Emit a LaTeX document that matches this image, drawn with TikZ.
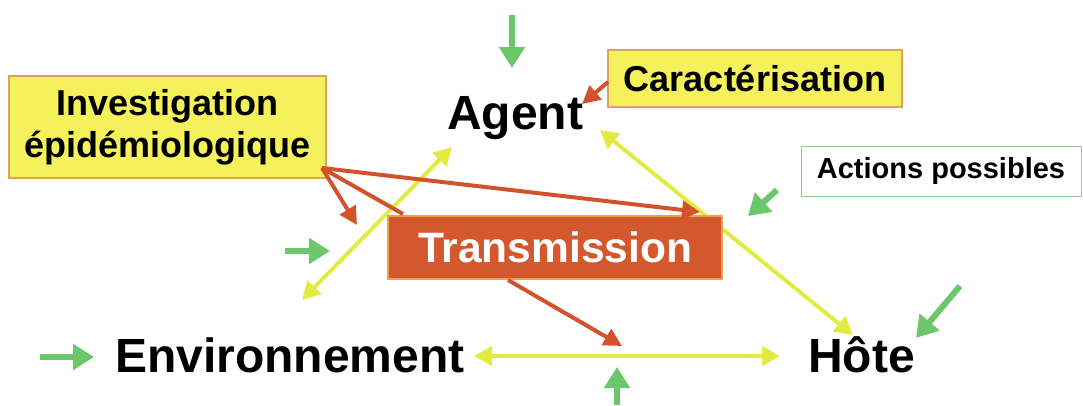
\documentclass[tikz,border=0pt]{standalone}
\usepackage{fontspec}
\setmainfont{Liberation Sans}
\usetikzlibrary{arrows.meta}
\definecolor{boxyellow}{HTML}{F4F15C}
\definecolor{boxedge}{HTML}{E0A35E}
\definecolor{ylw}{HTML}{E2EC40}
\definecolor{redarr}{HTML}{D2532B}
\definecolor{grn}{HTML}{6CC66A}
\definecolor{transfill}{HTML}{D4582E}
\definecolor{transedge}{HTML}{F0A048}
\definecolor{actedge}{HTML}{8FD08A}
\begin{document}
\begin{tikzpicture}[x=1pt,y=-1pt,
  lbl/.style={font=\fontsize{48}{50}\selectfont\bfseries, inner sep=0pt, anchor=base west},
  ybox/.style={draw=boxedge, line width=1.2pt, fill=boxyellow, align=center, inner sep=0pt},
  yarrow/.style={draw=ylw, line width=4pt, {Triangle[length=18pt,width=19pt]}-{Triangle[length=18pt,width=19pt]}},
  rarrow/.style={draw=redarr, line width=4pt, -{Triangle[length=18pt,width=18pt]}},
  rline/.style={draw=redarr, line width=4pt},
  garrow/.style={draw=grn, line width=6pt, -{Triangle[length=21pt,width=25pt]}}
]
\useasboundingbox (0,0) rectangle (1083,405);

% main labels
\node[lbl] (agent) at (447,129) {Agent};
\node[lbl] (env) at (115,372) {Environnement};
\node[lbl] (hote) at (808,372) {Hôte};

% yellow relations
\coordinate (ea1) at (302,300); \coordinate (ea2) at (452,147);
\coordinate (ah1) at (600,130); \coordinate (ah2) at (853,335);
\coordinate (eh1) at (474,356); \coordinate (eh2) at (780,356);
\draw[yarrow] (ea1) -- (ea2);
\draw[yarrow] (ah1) -- (ah2);
\draw[yarrow] (eh1) -- (eh2);

% boxes
\node[ybox, minimum width=317pt, minimum height=102pt,
      font=\fontsize{36}{42}\selectfont\bfseries] (invest) at (167.5,127)
      {Investigation\\épidémiologique};
\node[ybox, minimum width=294pt, minimum height=57pt,
      font=\fontsize{36}{40}\selectfont\bfseries] (caract) at (755,78.5)
      {Caractérisation};
\node[draw=actedge, line width=1pt, fill=white, inner sep=0pt,
      minimum width=280pt, minimum height=50pt,
      font=\fontsize{29}{32}\selectfont\bfseries] (actions) at (941,171)
      {Actions possibles};
\node[draw=transedge, line width=2pt, fill=transfill, text=white, inner sep=0pt,
      minimum width=334pt, minimum height=63pt,
      font=\fontsize{42.5}{45}\selectfont\bfseries] (trans) at (555,247.5)
      {Transmission};

% red arrows
\coordinate (inv) at (322,168);
\coordinate (r1) at (357,225);
\coordinate (r2) at (403,214);
\coordinate (r3) at (700,212);
\coordinate (c1) at (608,82); \coordinate (c2) at (582,104);
\coordinate (t1) at (508,280); \coordinate (t2) at (622,346);
\draw[rarrow] (inv) -- (r1);
\draw[rline] (inv) -- (r2);
\draw[rarrow] (inv) -- (r3);
\draw[rarrow] (c1) -- (c2);
\draw[rarrow] (t1) -- (t2);

% green action arrows
\coordinate (g1a) at (512,15);  \coordinate (g1b) at (512,68);
\coordinate (g2a) at (285,251); \coordinate (g2b) at (330,251);
\coordinate (g3a) at (40,357);  \coordinate (g3b) at (94,357);
\coordinate (g4a) at (617,405); \coordinate (g4b) at (617,367);
\coordinate (g5a) at (960,286); \coordinate (g5b) at (916,338);
\coordinate (g6a) at (777,190); \coordinate (g6b) at (748,216);
\draw[garrow] (g1a) -- (g1b);
\draw[garrow] (g2a) -- (g2b);
\draw[garrow] (g3a) -- (g3b);
\draw[garrow] (g4a) -- (g4b);
\draw[garrow] (g5a) -- (g5b);
\draw[garrow] (g6a) -- (g6b);
\end{tikzpicture}
\end{document}
